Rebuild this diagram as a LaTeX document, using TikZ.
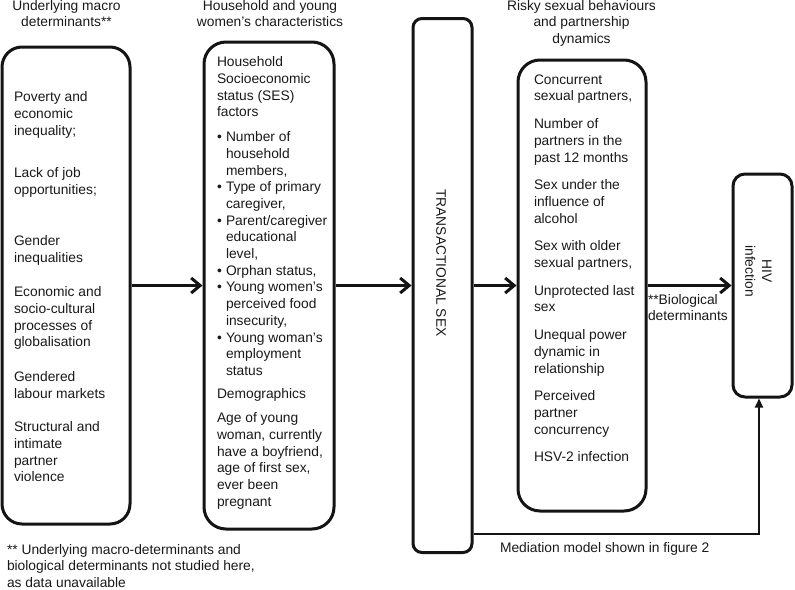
\documentclass[tikz,border=0pt]{standalone}
\usepackage{fontspec}
\setmainfont{Liberation Sans}
\usetikzlibrary{arrows.meta}
\newcommand{\bulx}{\makebox[9pt][l]{•}}
\newcommand{\indx}{\hspace*{9pt}}
\begin{document}
\begin{tikzpicture}[x=1pt,y=-1pt,
  every node/.style={font=\fontsize{13.8}{16.7}\selectfont, text=black!90, inner sep=0pt, outer sep=0pt},
  box/.style={draw=black!92, line width=3pt, rectangle, inner sep=0pt, outer sep=1.5pt},
  txt/.style={align=left, anchor=north west},
  ttl/.style={align=center, anchor=north},
  arr/.style={draw=black!92, line width=3pt, -{Straight Barb[length=9pt,width=15pt]}},
  medarr/.style={draw=black!92, line width=2pt, -{Triangle[length=9pt,width=8pt]}},
]
\useasboundingbox (0,0) rectangle (795,589);

% boxes
\node[box, rounded corners=20pt, minimum width=128pt, minimum height=477pt] (b1) at (66,285.5) {};
\node[box, rounded corners=22pt, minimum width=130pt, minimum height=487pt] (b2) at (269,285.5) {};
\node[box, rounded corners=9pt, minimum width=59pt, minimum height=534pt] (b3) at (442.5,285.5) {};
\node[box, rounded corners=22pt, minimum width=128pt, minimum height=451pt] (b4) at (582,285.5) {};
\node[box, rounded corners=12pt, minimum width=59pt, minimum height=223pt] (b5) at (762.5,285.5) {};

% titles
\node[ttl] (t1) at (66.5,0.1) {Underlying macro\\determinants**};
\node[ttl] (t2) at (270,0.1) {Household and young\\women’s characteristics};
\node[ttl] (t3) at (581.5,0.1) {Risky sexual behaviours\\and partnership\\dynamics};

% box texts
\node[txt] (x1) at (14,91.6) {Poverty and\\economic\\inequality;\\[25.9pt]Lack of job\\opportunities;\\[34.6pt]Gender\\inequalities\\[17.6pt]Economic and\\socio-cultural\\processes of\\globalisation\\[18.2pt]Gendered\\labour markets\\[16.6pt]Structural and\\intimate\\partner\\violence};

\node[txt] (x2) at (217,56.6) {Household\\Socioeconomic\\status (SES)\\factors\\[8.2pt]\bulx Number of\\\indx household\\\indx members,\\\bulx Type of primary\\\indx caregiver,\\\bulx Parent/caregiver\\\indx educational\\\indx level,\\\bulx Orphan status,\\\bulx Young women’s\\\indx perceived food\\\indx insecurity,\\\bulx Young woman’s\\\indx employment\\\indx status\\[6.5pt]Demographics\\[7.3pt]Age of young\\woman, currently\\have a boyfriend,\\age of first sex,\\ever been\\pregnant};

\node[rotate=-90] (x3) at (441,263) {TRANSACTIONAL SEX};

\node[txt] (x4) at (534,74.6) {Concurrent\\sexual partners,\\[11pt]Number of\\partners in the\\past 12 months\\[11pt]Sex under the\\influence of\\alcohol\\[11pt]Sex with older\\sexual partners,\\[11pt]Unprotected last\\sex\\[11pt]Unequal power\\dynamic in\\relationship\\[11pt]Perceived\\partner\\concurrency\\[11pt]HSV-2 infection};

\node[rotate=-90, align=center] (x5) at (758.5,271) {HIV\\infection};

% connectors
\draw[arr] (b1) -- (b2);
\draw[arr] (b2) -- (b3);
\draw[arr] (b3) -- (b4);
\draw[arr] (b4) -- (b5);
\coordinate (mc) at (759,534);
\draw[medarr] (b3.east |- mc) -- (mc) -- (mc |- b5.south);

% labels
\node[txt] (bio) at (648,294.1) {**Biological\\determinants};
\node[anchor=base west] (med) at (500,552.5) {Mediation model shown in figure 2};
\node[txt, font=\fontsize{13.8}{16.3}\selectfont] (fn) at (7,544.4) {** Underlying macro-determinants and\\biological determinants not studied here,\\as data unavailable};
\end{tikzpicture}
\end{document}
